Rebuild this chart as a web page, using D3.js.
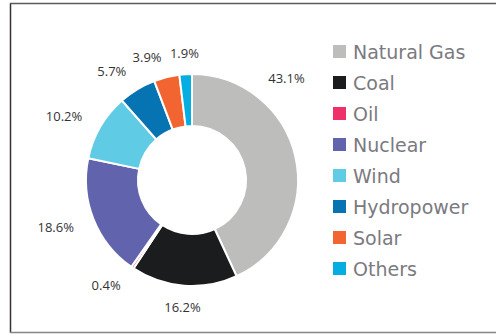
<!DOCTYPE html>
<html><head><meta charset="utf-8">
<script src="https://cdn.jsdelivr.net/npm/d3@7"></script>
<style>body{margin:0;background:#fff}svg{display:block}</style>
</head><body>
<svg id="c" width="496" height="336"></svg>
<script>
const categories = ["Natural Gas","Coal","Oil","Nuclear","Wind","Hydropower","Solar","Others"];
const values = [43.1, 16.2, 0.4, 18.6, 10.2, 5.7, 3.9, 1.9];
const colors = ["#bdbebb","#1b1c1e","#ee3169","#6164ad","#60cbe5","#0673b3","#f26531","#05aee0"];
const labels = values.map(v => v.toFixed(1) + "%");

const svg = d3.select("#c");
const W = 496, H = 336;

// frame
svg.append("line").attr("x1",10.5).attr("x2",10.5).attr("y1",3).attr("y2",333).attr("stroke","#3b2f2f").attr("stroke-width",1.5);
svg.append("line").attr("x1",10).attr("x2",W).attr("y1",3.5).attr("y2",3.5).attr("stroke","#5a5a5a").attr("stroke-width",1.5);
svg.append("line").attr("x1",10).attr("x2",W).attr("y1",332.5).attr("y2",332.5).attr("stroke","#858585").attr("stroke-width",1.5);

const cx = 192, cy = 180, rOuter = 106, rInner = 54, rLabel = 127;
const pie = d3.pie().sort(null).value(d => d)(values);
const arc = d3.arc().innerRadius(rInner).outerRadius(rOuter);
const g = svg.append("g").attr("transform", `translate(${cx},${cy})`);
g.selectAll("path").data(pie).join("path")
  .attr("d", arc)
  .attr("fill", (d,i) => colors[i])
  .attr("stroke", "#fff").attr("stroke-width", 2).attr("stroke-linejoin","round");

// labels
const rightLimit = 305 - cx;
const lab = g.selectAll("text.lbl").data(pie).join("text").attr("class","lbl")
  .attr("font-family","'Open Sans', sans-serif").attr("font-size",13).attr("fill","#333")
  .attr("dominant-baseline","central")
  .text((d,i) => labels[i]);
lab.each(function(d){
  const t = d3.select(this);
  const w = this.getComputedTextLength();
  let a = (d.startAngle + d.endAngle)/2;
  let s = Math.sin(a);
  let anchor = Math.abs(s) < 0.15 ? "middle" : (s > 0 ? "start" : "end");
  if (anchor === "start") {
    // rotate toward the top until the label fits left of the legend
    while (rLabel*Math.sin(a) + w > rightLimit && a > 0.05) a -= 0.01;
  }
  t.attr("x", rLabel*Math.sin(a)).attr("y", -rLabel*Math.cos(a)).attr("text-anchor", anchor);
});

// legend
const leg = svg.append("g").attr("transform","translate(333,45)");
const rows = leg.selectAll("g").data(categories).join("g").attr("transform",(d,i)=>`translate(0,${i*31})`);
rows.append("rect").attr("width",13).attr("height",13).attr("fill",(d,i)=>colors[i]);
rows.append("text").attr("x",20).attr("y",7).attr("dominant-baseline","central")
  .attr("font-family","'DejaVu Sans', sans-serif").attr("font-size",19).attr("fill","#7a7a80")
  .text(d=>d);
</script>
</body></html>
